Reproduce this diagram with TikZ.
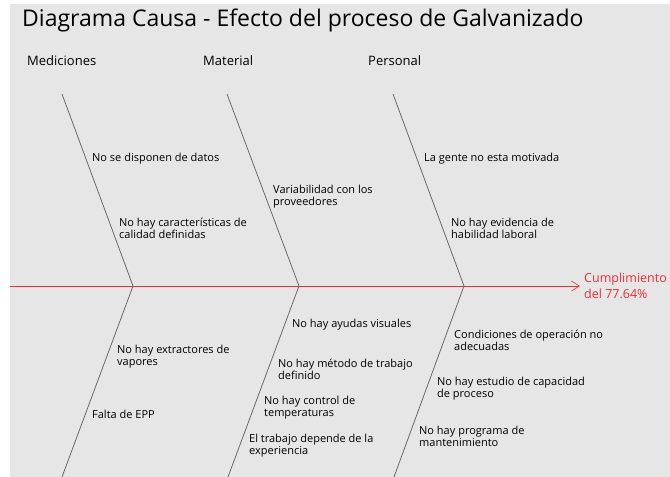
\documentclass[tikz,border=0pt]{standalone}
\usepackage{fontspec}
\setmainfont{Open Sans}
\usepackage{xcolor}
\usetikzlibrary{positioning, arrows.meta}

\definecolor{fondo}{HTML}{E6E6E6}
\definecolor{hueso}{HTML}{6A6A6A}
\definecolor{efectorojo}{HTML}{E8303A}

\tikzset{
    causa/.style={anchor=west, inner sep=0pt, yshift=-1.5pt, align=left, font=\fontsize{11}{12.5}\selectfont, text=black},
    categoria/.style={anchor=west, inner sep=0pt, yshift=-1pt, font=\fontsize{13}{15}\selectfont, text=black},
    espina/.style={draw=hueso, line width=0.8pt},
}

\begin{document}
\begin{tikzpicture}[x=1pt, y=-1pt]
    \useasboundingbox (0,0) rectangle (670,477);
    \fill[fondo] (10,4) rectangle (670,477);

    % titulo y categorias
    \node[anchor=base west, inner sep=0pt, font=\fontsize{23}{26}\selectfont] (titulo) at (22,26) {Diagrama Causa - Efecto del proceso de Galvanizado};
    \node[categoria] (med) at (27,60) {Mediciones};
    \node[categoria] (mat) at (203,60) {Material};
    \node[categoria] (per) at (368,60) {Personal};

    % espina central
    \coordinate (cola) at (10,286);
    \node[anchor=west, inner sep=0pt, align=left, text=efectorojo, font=\fontsize{12.5}{16}\selectfont] (efecto) at (584,286) {Cumplimiento\\del 77.64\%};
    \draw[efectorojo, line width=0.6pt, -{Straight Barb[length=8pt, width=10pt]}] (cola) -- ([xshift=-4pt]efecto.west |- cola);

    % huesos
    \coordinate (a1) at (62,94);   \coordinate (b1) at (133,286);  \coordinate (c1) at (62,477);
    \coordinate (a2) at (227,94);  \coordinate (b2) at (299,286);  \coordinate (c2) at (228,477);
    \coordinate (a3) at (393,94);  \coordinate (b3) at (464,286);  \coordinate (c3) at (394,477);
    \draw[espina] (a1) -- (b1) -- (c1);
    \draw[espina] (a2) -- (b2) -- (c2);
    \draw[espina] (a3) -- (b3) -- (c3);

    % causas arriba
    \node[causa] (m1) at (92,157) {No se disponen de datos};
    \node[causa] (m2) at (119,227) {No hay características de\\calidad definidas};
    \node[causa] (t1) at (273,195) {Variabilidad con los\\proveedores};
    \node[causa] (p1) at (424,157) {La gente no esta motivada};
    \node[causa] (p2) at (451,227) {No hay evidencia de\\habilidad laboral};

    % causas abajo
    \node[causa] (m3) at (117,355) {No hay extractores de\\vapores};
    \node[causa] (m4) at (92,413) {Falta de EPP};
    \node[causa] (t2) at (292,323) {No hay ayudas visuales};
    \node[causa] (t3) at (278,368) {No hay método de trabajo\\definido};
    \node[causa] (t4) at (264,406) {No hay control de\\temperaturas};
    \node[causa] (t5) at (249,444) {El trabajo depende de la\\experiencia};
    \node[causa] (p3) at (454,339) {Condiciones de operación no\\adecuadas};
    \node[causa] (p4) at (437,387) {No hay estudio de capacidad\\de proceso};
    \node[causa] (p5) at (419,435) {No hay programa de\\mantenimiento};
\end{tikzpicture}
\end{document}
